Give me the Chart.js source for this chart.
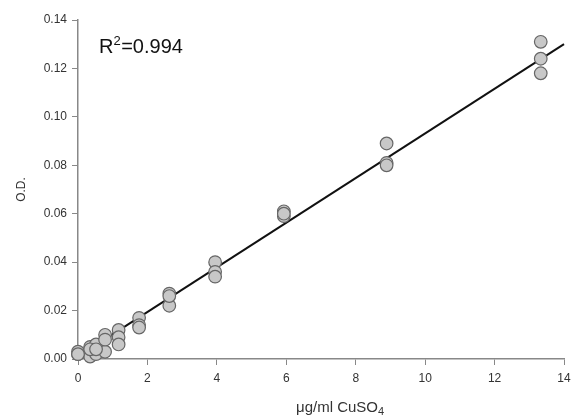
<!DOCTYPE html>
<html>
<head>
<meta charset="utf-8">
<script src="https://cdn.jsdelivr.net/npm/chart.js@4.4.1/dist/chart.umd.min.js"></script>
<style>
html,body{margin:0;padding:0;background:#fff;}
#wrap{width:573px;height:416px;}
</style>
</head>
<body>
<div id="wrap"><canvas id="c" width="573" height="416"></canvas></div>
<script>
// Data
const concentrations = [0, 0.35, 0.52, 0.78, 1.17, 1.76, 2.63, 3.95, 5.93, 8.89, 13.33];
const rep1 = [0.002, 0.005, 0.006, 0.010, 0.012, 0.017, 0.027, 0.040, 0.061, 0.089, 0.131];
const rep2 = [0.003, 0.001, 0.002, 0.003, 0.009, 0.014, 0.022, 0.036, 0.059, 0.081, 0.124];
const rep3 = [0.002, 0.004, 0.004, 0.008, 0.006, 0.013, 0.026, 0.034, 0.060, 0.080, 0.118];
const fitX = [0, 14];
const fitY = [0.001, 0.130];
const yTicks = [0, 0.02, 0.04, 0.06, 0.08, 0.10, 0.12, 0.14];
const xTicks = [0, 2, 4, 6, 8, 10, 12, 14];
const rSquared = "0.994";
const xTitleMain = "μg/ml CuSO";
const xTitleSub = "4";

const points = [];
[rep1, rep2, rep3].forEach(r => r.forEach((v, i) => points.push({x: concentrations[i], y: v})));
const fitLine = fitX.map((x, i) => ({x: x, y: fitY[i]}));

const FAM = '"Liberation Sans", Arial, sans-serif';
const annot = {
  id: 'annot',
  afterDraw(chart) {
    const ctx = chart.ctx;
    ctx.save();
    ctx.textBaseline = 'alphabetic';
    // R^2 label
    ctx.fillStyle = '#111';
    ctx.font = '20px ' + FAM;
    let x = 99, y = 53;
    ctx.fillText('R', x, y);
    x += ctx.measureText('R').width;
    ctx.font = '13px ' + FAM;
    ctx.fillText('2', x, y - 8);
    x += ctx.measureText('2').width + 0.5;
    ctx.font = '20px ' + FAM;
    ctx.fillText('=' + rSquared, x, y);
    // x axis title with subscript
    ctx.fillStyle = '#333';
    ctx.font = '15px ' + FAM;
    x = 296; y = 412;
    ctx.fillText(xTitleMain, x, y);
    x += ctx.measureText(xTitleMain).width;
    ctx.font = '11px ' + FAM;
    ctx.fillText(xTitleSub, x, y + 3);
    ctx.restore();
  }
};

const tickFont = {family: FAM, size: 12};
new Chart(document.getElementById('c'), {
  type: 'scatter',
  data: {
    datasets: [
      {
        type: 'line',
        data: fitLine,
        borderColor: '#111',
        borderWidth: 2,
        pointRadius: 0,
        fill: false,
        clip: false,
        order: 2
      },
      {
        data: points,
        backgroundColor: '#c8c8c8',
        borderColor: '#666',
        borderWidth: 1.2,
        pointRadius: 6.3,
        clip: false,
        order: 1
      }
    ]
  },
  options: {
    responsive: false,
    animation: false,
    events: [],
    layout: {padding: {left: 14, right: 9, top: 20, bottom: 0}},
    plugins: {legend: {display: false}, tooltip: {enabled: false}},
    scales: {
      x: {
        type: 'linear',
        min: 0, max: 14,
        afterBuildTicks: s => { s.ticks = xTicks.map(v => ({value: v})); },
        afterFit: s => { s.height = 57; s.paddingRight = 0; s.paddingLeft = 0; },
        grid: {drawOnChartArea: false, drawTicks: true, tickLength: 6, color: '#888'},
        border: {display: true, color: '#888', width: 1.5},
        ticks: {color: '#333', font: tickFont, padding: 6, maxRotation: 0},
        title: {display: false}
      },
      y: {
        type: 'linear',
        min: 0, max: 0.14,
        afterBuildTicks: s => { s.ticks = yTicks.map(v => ({value: v})); },
        afterFit: s => { s.width = 64; s.paddingTop = 0; s.paddingBottom = 0; },
        grid: {drawOnChartArea: false, drawTicks: true, tickLength: 6, color: '#888'},
        border: {display: true, color: '#888', width: 1.5},
        ticks: {color: '#333', font: tickFont, padding: 5, callback: v => v.toFixed(2)},
        title: {display: true, text: 'O.D.', color: '#333', font: {family: FAM, size: 12}, padding: 0}
      }
    }
  },
  plugins: [annot]
});
</script>
</body>
</html>
